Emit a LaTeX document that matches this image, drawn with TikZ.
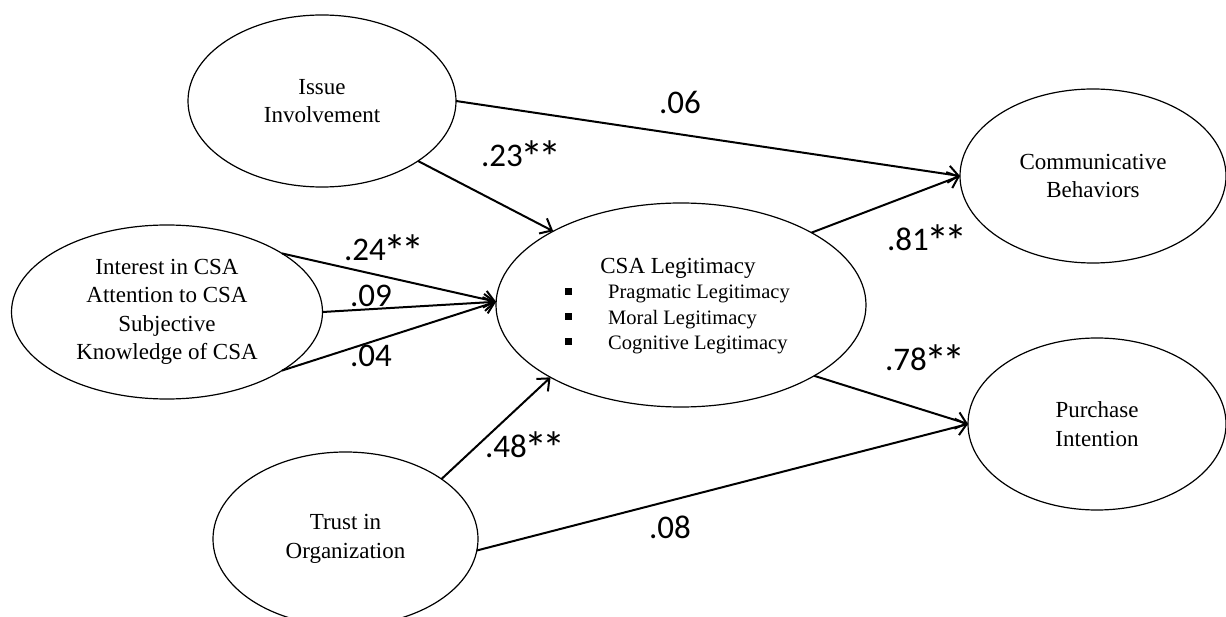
\documentclass[tikz,border=0pt]{standalone}
\usepackage{fontspec}
\setmainfont{Liberation Serif}
\newfontfamily\coeffont{Carlito}
\usetikzlibrary{shapes.geometric,arrows.meta}
\newcommand\sigstar{\raisebox{-6.5pt}{\scalebox{1.4}{*}}}
\newcommand\sigtwo{\kern-2pt\sigstar\kern-5pt\sigstar\kern-3pt}

\begin{document}
\begin{tikzpicture}[x=1pt,y=-1pt,
  latent/.style={ellipse,draw,line width=1.2pt,inner sep=0pt,outer sep=0pt,
    align=center,font=\fontsize{23}{28.5}\selectfont},
  effect/.style={line width=2pt,-{Straight Barb[length=10pt,width=17pt,line width=2pt]}},
  coef/.style={font=\coeffont\fontsize{33}{36}\selectfont,inner sep=0pt},
  dimtext/.style={anchor=base west,inner sep=0pt,font=\fontsize{20.5}{25}\selectfont},
  sq/.style={fill,inner sep=0pt,minimum size=7pt}]

\useasboundingbox (0,0) rectangle (1226,617);
\fill[white] (0,0) rectangle (1226,617);
\clip (0,0) rectangle (1226,617);

% constructs
\node[latent,minimum width=268pt,minimum height=172pt] (iss) at (322,101) {Issue\\Involvement};
\node[latent,minimum width=311pt,minimum height=174pt] (int) at (167,312)
  {Interest in CSA\\Attention to CSA\\Subjective\\Knowledge of CSA};
\node[latent,minimum width=370pt,minimum height=204pt] (csa) at (681,305) {};
\node[latent,minimum width=265pt,minimum height=174pt] (tru) at (345.5,539) {Trust in\\Organization};
\node[latent,minimum width=266pt,minimum height=174pt] (com) at (1093,176) {Communicative\\Behaviors};
\node[latent,minimum width=258pt,minimum height=172pt] (pur) at (1097,424) {Purchase\\Intention};

% legitimacy dimensions
\node[anchor=base,inner sep=0pt,font=\fontsize{23}{28}\selectfont] (csat) at (678,274) {CSA Legitimacy};
\node[sq] (b1) at (568,292) {};
\node[sq] (b2) at (568,317) {};
\node[sq] (b3) at (568,342) {};
\node[dimtext] (d1) at (608,299) {Pragmatic Legitimacy};
\node[dimtext] (d2) at (608,325) {Moral Legitimacy};
\node[dimtext] (d3) at (608,350) {Cognitive Legitimacy};

% paths
\draw[effect] (iss.east) -- (com.west);
\draw[effect] (iss.-32.7) -- (csa.150.9);
\draw[effect] (int.27.3) -- (csa.179.4);
\draw[effect] (int.-0.5) -- (csa.179.4);
\draw[effect] (int.-27.7) -- (csa.179.4);
\draw[effect] (tru.32) -- (csa.-151.7);
\draw[effect] (tru.-5) -- (pur.west);
\draw[effect] (csa.29.2) -- (com.west);
\draw[effect] (csa.-28) -- (pur.west);

% coefficients
\node[coef] (c06) at (680,102) {.06};
\node[coef] (c23) at (520,157) {.23\sigtwo};
\node[coef] (c24) at (383,251) {.24\sigtwo};
\node[coef] (c09) at (371,296) {.09};
\node[coef] (c04) at (371,356) {.04};
\node[coef] (c48) at (524,448) {.48\sigtwo};
\node[coef] (c08) at (670,527) {.08};
\node[coef] (c81) at (926,241) {.81\sigtwo};
\node[coef] (c78) at (924,361) {.78\sigtwo};
\end{tikzpicture}
\end{document}
